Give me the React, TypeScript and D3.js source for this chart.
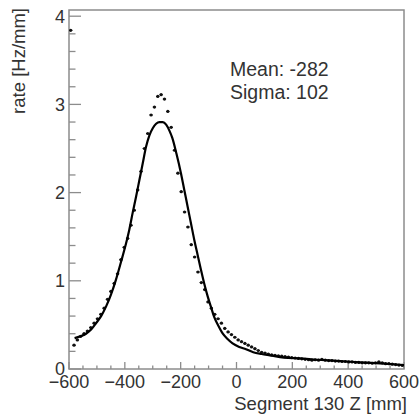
import React from "react";
import * as d3 from "d3";

const binCenters: number[] = d3.range(-594, 600, 12);
const rates: number[] = [
  3.84, 0.27, 0.33, 0.37, 0.4, 0.43, 0.47, 0.52, 0.57, 0.62,
  0.69, 0.79, 0.88, 0.97, 1.08, 1.24, 1.38, 1.48, 1.63, 1.8,
  2.03, 2.24, 2.5, 2.67, 2.88, 2.97, 3.09, 3.11, 3.06, 2.92,
  2.74, 2.48, 2.22, 2.01, 1.78, 1.61, 1.41, 1.27, 1.1, 0.98,
  0.9, 0.76, 0.69, 0.62, 0.57, 0.52, 0.46, 0.42, 0.39, 0.36,
  0.33, 0.31, 0.29, 0.27, 0.25, 0.23, 0.21, 0.19, 0.18, 0.17,
  0.16, 0.155, 0.15, 0.145, 0.14, 0.135, 0.13, 0.125, 0.12, 0.115,
  0.11, 0.105, 0.1, 0.105, 0.1, 0.11, 0.1, 0.095, 0.095, 0.09,
  0.09, 0.085, 0.085, 0.08, 0.08, 0.075, 0.075, 0.07, 0.07, 0.07,
  0.065, 0.07, 0.08, 0.07, 0.06, 0.06, 0.055, 0.05, 0.045, 0.04,
];

const fitX: number[] = [
  -580, -560, -539, -520, -503, -485, -467, -450, -432, -414, -396, -384, -372, -360,
  -348, -336, -324, -312, -300, -288, -276, -264, -252, -240, -230, -215, -199, -187,
  -175, -163, -151, -139, -127, -115, -103, -91, -80, -65, -49, -32, -14, 10, 34, 60,
  90, 120, 170, 227, 290, 347, 410, 466, 530, 600,
];
const fitY: number[] = [
  0.35, 0.37, 0.4, 0.45, 0.52, 0.6, 0.71, 0.84, 1.01, 1.21, 1.42, 1.58, 1.77, 1.95,
  2.14, 2.33, 2.52, 2.65, 2.73, 2.78, 2.8, 2.8, 2.77, 2.7, 2.62, 2.44, 2.22, 2.03,
  1.84, 1.65, 1.46, 1.29, 1.12, 0.96, 0.82, 0.7, 0.59, 0.49, 0.4, 0.34, 0.29, 0.25, 0.225, 0.19,
  0.17, 0.155, 0.13, 0.12, 0.105, 0.094, 0.082, 0.072, 0.06, 0.045,
];

const xMajor: number[] = [-600, -400, -200, 0, 200, 400, 600];
const yMajor: number[] = [0, 1, 2, 3, 4];
const statsLines: string[] = ["Mean: -282", "Sigma: 102"];
const xTitle = "Segment 130 Z [mm]";
const yTitle = "rate [Hz/mm]";

const W = 419;
const H = 416;
const L = 69;
const R = 404;
const T = 10;
const B = 369;
const FONT = "'Liberation Sans', Arial, Helvetica, sans-serif";
const TXT = "#333";
const FRAME = "#8c8c8c";

export default function App() {
  const x = d3.scaleLinear().domain([-600, 600]).range([L, R]);
  const y = d3.scaleLinear().domain([0, (B - T) / 88.2]).range([B, T]);
  const binW = 12;

  const xMinor = d3.range(-600, 601, 50).filter((v) => !xMajor.includes(v));
  const yMinor = d3.range(0, 4.05, 0.2).filter((v) => Math.abs(v - Math.round(v)) > 1e-6);

  const line = d3
    .line<number>()
    .x((_, i) => x(fitX[i]))
    .y((d) => y(d))
    .curve(d3.curveMonotoneX);

  const fmt = (v: number) => (v < 0 ? "\u2212" + Math.abs(v) : String(v));

  return (
    <svg width={W} height={H} style={{ position: "absolute", left: 0, top: 0, background: "#fff" }}>
      <rect x={0} y={0} width={W} height={H} fill="#fff" />
      {/* ticks */}
      {yMajor.map((v) => (
        <line key={"ym" + v} x1={L} x2={L + 12} y1={y(v)} y2={y(v)} stroke={FRAME} strokeWidth={1.3} />
      ))}
      {yMinor.map((v) => (
        <line key={"yn" + v} x1={L} x2={L + 6.5} y1={y(v)} y2={y(v)} stroke={FRAME} strokeWidth={1.3} />
      ))}
      {xMajor.map((v) => (
        <line key={"xm" + v} x1={x(v)} x2={x(v)} y1={B} y2={B - 7} stroke={FRAME} strokeWidth={1.3} />
      ))}
      {xMinor.map((v) => (
        <line key={"xn" + v} x1={x(v)} x2={x(v)} y1={B} y2={B - 3.5} stroke={FRAME} strokeWidth={1.3} />
      ))}
      <rect x={L} y={T} width={R - L} height={B - T} fill="none" stroke={FRAME} strokeWidth={1.5} />

      {/* data points */}
      {binCenters.map((c, i) => (
        <g key={"p" + i}>
          <line x1={x(c - binW / 2)} x2={x(c + binW / 2)} y1={y(rates[i])} y2={y(rates[i])} stroke="#111" strokeWidth={1} />
          <circle cx={x(c)} cy={y(rates[i])} r={1.6} fill="#111" />
        </g>
      ))}

      {/* fit curve */}
      <path d={line(fitY) || ""} fill="none" stroke="#000" strokeWidth={2.2} />

      {/* tick labels */}
      {yMajor.map((v) => (
        <text key={"yl" + v} x={65} y={y(v)} dy="0.36em" textAnchor="end" fontFamily={FONT} fontSize={18} fill={TXT}>
          {v}
        </text>
      ))}
      {xMajor.map((v) => (
        <text key={"xl" + v} x={x(v)} y={388} textAnchor="middle" fontFamily={FONT} fontSize={18} fill={TXT}>
          {fmt(v)}
        </text>
      ))}

      {/* titles */}
      <text x={407} y={410} textAnchor="end" fontFamily={FONT} fontSize={18.5} fill={TXT}>
        {xTitle}
      </text>
      <text
        transform={`translate(25,8) rotate(-90)`}
        textAnchor="end"
        fontFamily={FONT}
        fontSize={18.5}
        fill={TXT}
      >
        {yTitle}
      </text>

      {/* stats */}
      {statsLines.map((s, i) => (
        <text key={"s" + i} x={230} y={76 + i * 23} fontFamily={FONT} fontSize={19.5} fill={TXT}>
          {s}
        </text>
      ))}
    </svg>
  );
}
